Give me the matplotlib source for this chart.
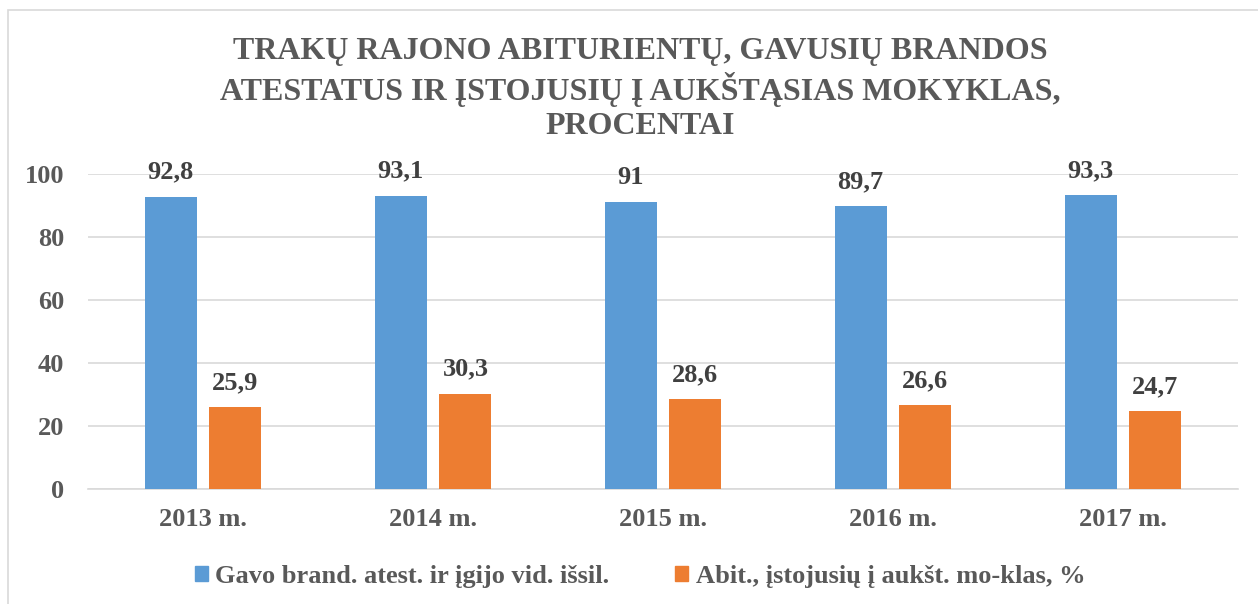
import matplotlib
matplotlib.use("Agg")
import matplotlib.pyplot as plt
from matplotlib.patches import Rectangle, Patch
import numpy as np

categories = ["2013 m.", "2014 m.", "2015 m.", "2016 m.", "2017 m."]
series1_name = "Gavo brand. atest. ir įgijo vid. išsil."
series2_name = "Abit., įstojusių į aukšt. mo-klas, %"
series1 = [92.8, 93.1, 91, 89.7, 93.3]
series2 = [25.9, 30.3, 28.6, 26.6, 24.7]
yticks = [0, 20, 40, 60, 80, 100]
title = "TRAKŲ RAJONO ABITURIENTŲ, GAVUSIŲ BRANDOS\nATESTATUS IR ĮSTOJUSIŲ Į AUKŠTĄSIAS MOKYKLAS,\nPROCENTAI"

BLUE = "#5B9BD5"
ORANGE = "#ED7D31"
GRAY = "#595959"
LABEL = "#404040"
GRID = "#D9D9D9"
SERIF = ["Liberation Serif", "DejaVu Serif"]
FS = 19

fig = plt.figure(figsize=(12.58, 6.04), dpi=100)
fig.patches.append(Rectangle((8/1258, -0.1), 1.2, 1 - 10/604 + 0.1, transform=fig.transFigure,
                             fill=False, edgecolor="#D9D9D9", linewidth=1.2))

ax = fig.add_axes([88/1258, 1 - 489/604, 1150/1258, (489 - 174)/604])
x = np.arange(len(categories))
w = 0.226
off = 0.141
b1 = ax.bar(x - off, series1, w, color=BLUE, zorder=3)
b2 = ax.bar(x + off, series2, w, color=ORANGE, zorder=3)

for bars, vals in ((b1, series1), (b2, series2)):
    for r, v in zip(bars, vals):
        txt = f"{v:g}".replace(".", ",")
        ax.annotate(txt, (r.get_x() + r.get_width() / 2, v), xytext=(0, 13),
                    textcoords="offset points", ha="center", va="baseline",
                    fontsize=FS, fontweight="bold", color=LABEL, family=SERIF, zorder=5)

ax.set_xlim(-0.5, len(categories) - 0.5)
ax.set_ylim(0, 100)
ax.set_yticks(yticks)
ax.set_xticks(x)
ax.set_xticklabels(categories)
for lab in ax.get_xticklabels() + ax.get_yticklabels():
    lab.set_family(SERIF)
    lab.set_fontweight("bold")
    lab.set_fontsize(FS)
    lab.set_color(GRAY)
ax.tick_params(axis="both", length=0)
ax.tick_params(axis="y", pad=17)
ax.tick_params(axis="x", pad=14)
ax.yaxis.grid(True, color=GRID, linewidth=1.2, zorder=0)
for s in ["top", "right", "left"]:
    ax.spines[s].set_visible(False)
ax.spines["bottom"].set_color(GRID)
ax.spines["bottom"].set_linewidth(1.2)

fig.text(640/1258, 1 - 89/604, title, ha="center", va="center", fontsize=23,
         fontweight="bold", color=GRAY, family=SERIF, linespacing=1.22)

handles = [Patch(color=BLUE, label=series1_name), Patch(color=ORANGE, label=series2_name)]
leg = fig.legend(handles=handles, loc="center", bbox_to_anchor=(640/1258, 1 - 576/604), ncol=2,
                 frameon=False, handlelength=0.5, handleheight=0.5, handletextpad=0.27,
                 columnspacing=2.5, borderpad=0,
                 prop={"family": SERIF, "weight": "bold", "size": FS})
for t in leg.get_texts():
    t.set_color(GRAY)

fig.savefig("out.png", dpi=100)
